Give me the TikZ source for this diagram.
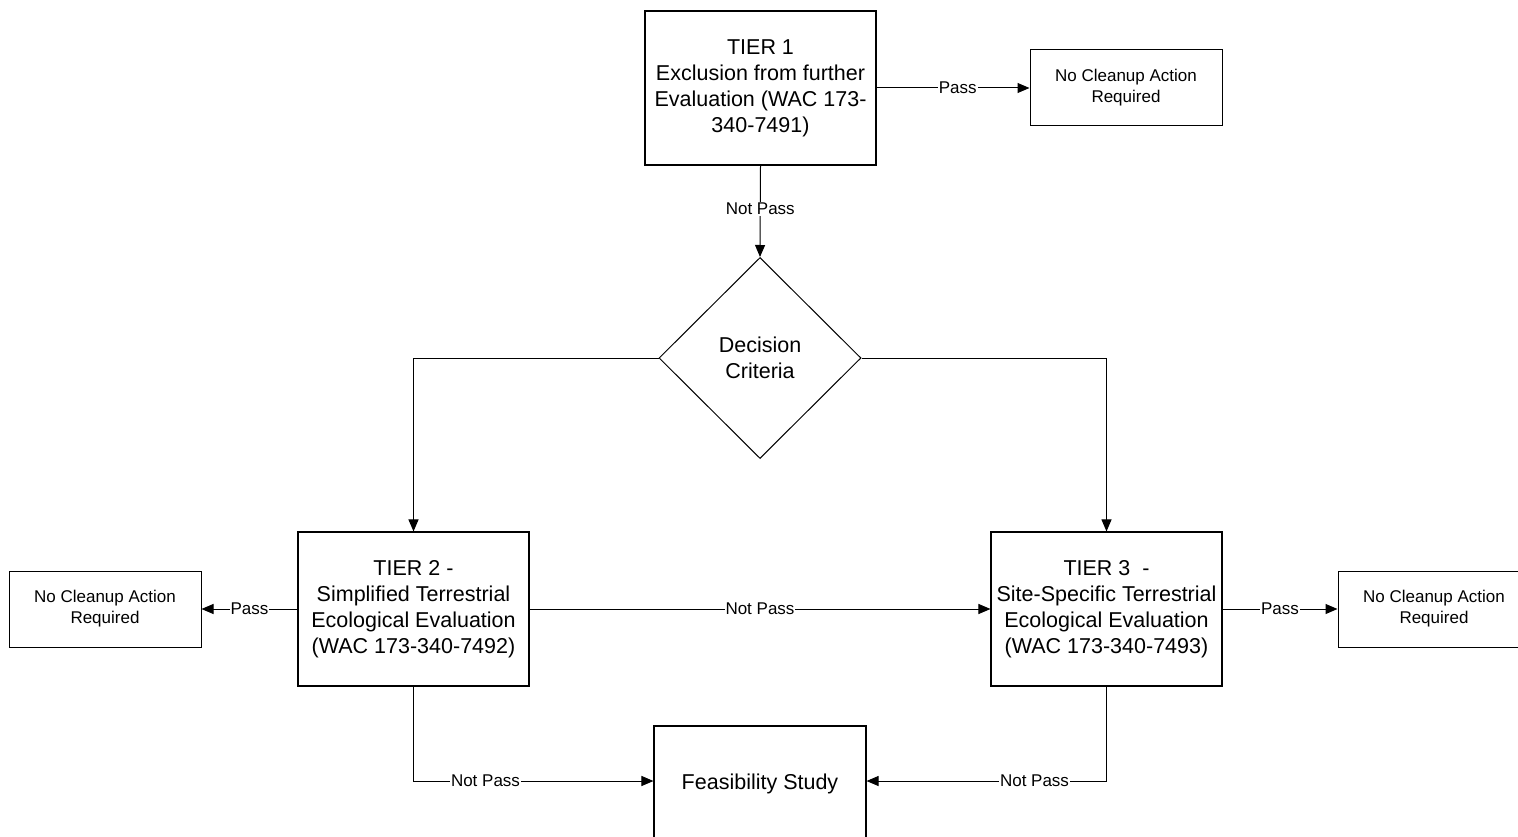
\documentclass[tikz,border=0pt]{standalone}
\usepackage{fontspec}
\setmainfont{Liberation Sans}
\usetikzlibrary{shapes.geometric,arrows.meta}
\tikzset{
  big/.style={font=\fontsize{21.5pt}{26pt}\selectfont, align=center},
  small/.style={font=\fontsize{17pt}{21pt}\selectfont, align=center},
  tierbox/.style={draw, line width=1.1pt, big, minimum width=231pt, minimum height=154pt, inner sep=0pt},
  ncbox/.style={draw, line width=1pt, small, minimum width=192pt, minimum height=76pt, inner sep=0pt},
  conn/.style={line width=1pt, -{Triangle[length=12pt,width=10pt]}},
  lbl/.style={small, fill=white, inner sep=1pt},
}
\begin{document}
\begin{tikzpicture}[x=1pt,y=-1pt]
\useasboundingbox (0,0) rectangle (1518,837);
\node[tierbox, line width=1.5pt] (t1) at (760.5,88) {TIER 1\\Exclusion from further\\Evaluation (WAC 173-\\340-7491)};
\node[ncbox] (nc1) at (1126,88) {No Cleanup Action\\Required};
\node[draw, line width=1pt, shape=diamond, aspect=1, minimum width=202pt, minimum height=201pt, inner sep=0pt, big] (dec) at (760,358) {Decision\\Criteria};
\node[tierbox] (t2) at (413.5,609) {TIER 2 -\\Simplified Terrestrial\\Ecological Evaluation\\(WAC 173-340-7492)};
\node[tierbox] (t3) at (1106.5,609) {TIER 3\ \ -\\Site-Specific Terrestrial\\Ecological Evaluation\\(WAC 173-340-7493)};
\node[ncbox] (nc2) at (105,609) {No Cleanup Action\\Required};
\node[ncbox] (nc3) at (1434,609) {No Cleanup Action\\Required};
\node[draw, line width=1.1pt, big, minimum width=212pt, minimum height=120pt, inner sep=0pt] (feas) at (760,786) {\raisebox{8pt}{Feasibility Study}};

\draw[conn] (t1.east) -- node[lbl, pos=0.53] {Pass} (nc1.west);
\draw[conn] (t1.south) -- node[lbl, pos=0.47] {Not Pass} (dec.north);
\draw[conn] (dec.west) -| (t2.north);
\draw[conn] (dec.east) -| (t3.north);
\draw[conn] (t2.east) -- node[lbl] {Not Pass} (t3.west);
\draw[conn] (t2.west) -- node[lbl] {Pass} (nc2.east);
\draw[conn] (t3.east) -- node[lbl] {Pass} (nc3.west);
\draw[conn] (t2.south) |- node[lbl, pos=0.65] {Not Pass} ([yshift=5pt]feas.west);
\draw[conn] (t3.south) |- node[lbl, pos=0.65] {Not Pass} ([yshift=5pt]feas.east);
\end{tikzpicture}
\end{document}
